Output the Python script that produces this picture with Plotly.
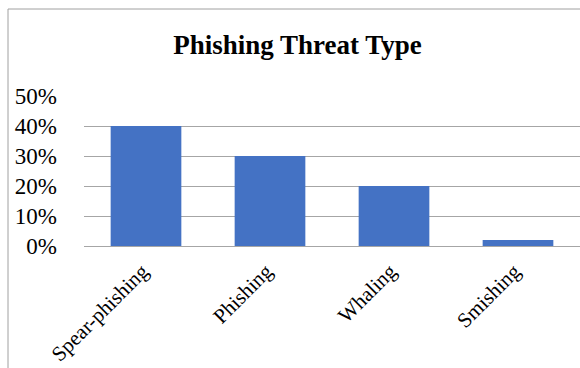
import plotly.graph_objects as go

categories = ["Spear-phishing", "Phishing", "Whaling", "Smishing"]
values = [0.40, 0.30, 0.20, 0.02]
y_ticks = [0, 0.1, 0.2, 0.3, 0.4, 0.5]
y_tick_labels = ["0%", "10%", "20%", "30%", "40%", "50%"]

L, R, T, B = 84, 0, 96, 122
W, H = 580, 368
pw, ph = W - L - R, H - T - B

def px_x(px):
    return (px - L) / pw

def px_y(py):
    return (H - B - py) / ph

fig = go.Figure(go.Bar(x=categories, y=values, marker_color="#4472C4", marker_line_width=0))

fig.update_layout(
    width=W, height=H,
    margin=dict(l=L, r=R, t=T, b=B),
    paper_bgcolor="white", plot_bgcolor="white",
    bargap=0.43,
    showlegend=False,
    font=dict(family="Liberation Serif, Times New Roman, serif", color="black"),
    title=dict(text="<b>Phishing Threat Type</b>", x=px_x(297.5), xref="paper",
               y=1 - 45 / H, yanchor="middle", xanchor="center",
               font=dict(size=27, family="Liberation Serif, Times New Roman, serif", color="black")),
    xaxis=dict(tickangle=-45, tickfont=dict(size=21), showgrid=False, showline=True,
               tickvals=categories, ticktext=[c + "\u00a0" for c in categories],
               linecolor="#a6a6a6", linewidth=1, ticks="", fixedrange=True),
    yaxis=dict(range=[0, 0.5], tickvals=y_ticks, ticktext=y_tick_labels, tickfont=dict(size=23),
               showgrid=True, gridcolor="#a6a6a6", gridwidth=1, zeroline=False, showline=False,
               ticks="", ticklabelstandoff=26),
    shapes=[
        dict(type="line", xref="paper", yref="paper", x0=px_x(8), x1=px_x(8), y0=px_y(9), y1=px_y(400),
             line=dict(color="#a0a0a0", width=1)),
        dict(type="line", xref="paper", yref="paper", x0=px_x(8), x1=px_x(600), y0=px_y(9), y1=px_y(9),
             line=dict(color="#a0a0a0", width=1)),
    ],
)

fig.write_html("out.html")
